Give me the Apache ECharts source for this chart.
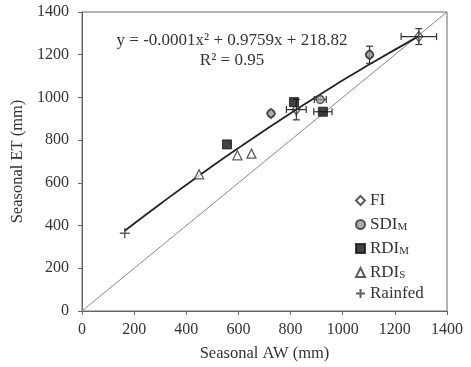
<!DOCTYPE html>
<html><head><meta charset="utf-8">
<script src="https://cdn.jsdelivr.net/npm/echarts@6/dist/echarts.min.js"></script>
<style>html,body{margin:0;padding:0;background:#fff}#c{width:471px;height:367px}</style>
</head><body><div id="c"></div>
<script>
// Data
const fiPts = [[1292,1285],[1103,1200],[822,943],[725,925]];
const sdiPts = [[1103,1200],[914,990],[725,925]];
const rdiMPts = [[813,978],[924,933],[556,780]];
const rdiSPts = [[449,640],[596,729],[650,737]];
const rainfedPts = [[164,364]];
// error bars: [x, y, xErr, yErr]
const errBars = [[1292,1285,68,37],[1103,1200,0,40],[822,943,38,48],[914,990,23,0],[924,933,35,0]];
// fitted curve points
const fitX = [164,300,451,600,822,1000,1103,1290];
const fitY = [376,501,636,763,943,1080,1155,1286];
const oneToOne = [[0,0],[1400,1400]];
const axisTicks = [0,200,400,600,800,1000,1200,1400];

const serif = '"Liberation Serif","DejaVu Serif",serif';
const chart = echarts.init(document.getElementById('c'));
const fitData = fitX.map((x,i)=>[x,fitY[i]]);
const plusPath = 'path://M0,5L10,5M5,0L5,10';

chart.setOption({
  animation:false,
  grid:{left:82,top:12,right:24,bottom:55,show:true,borderColor:'#666',borderWidth:1},
  xAxis:{type:'value',min:axisTicks[0],max:axisTicks[axisTicks.length-1],interval:200,
    name:'Seasonal AW (mm)',nameLocation:'middle',nameGap:34,
    nameTextStyle:{fontFamily:serif,fontSize:16.5,color:'#333'},
    axisLine:{lineStyle:{color:'#666'}},axisTick:{inside:false,length:4,lineStyle:{color:'#666'}},
    axisLabel:{fontFamily:serif,fontSize:16,color:'#333',margin:11,formatter:v=>String(v)},splitLine:{show:false}},
  yAxis:{type:'value',min:axisTicks[0],max:axisTicks[axisTicks.length-1],interval:200,
    name:'Seasonal ET (mm)',nameLocation:'middle',nameGap:54,
    nameTextStyle:{fontFamily:serif,fontSize:16.5,color:'#333'},
    axisLine:{show:true,lineStyle:{color:'#666'}},axisTick:{show:true,length:4,lineStyle:{color:'#666'}},
    axisLabel:{fontFamily:serif,fontSize:16,color:'#333',margin:13,formatter:v=>String(v)},splitLine:{show:false}},
  legend:{orient:'vertical',left:350,top:187,itemGap:4,itemWidth:9,itemHeight:9,
    textStyle:{fontFamily:serif,fontSize:17,color:'#333',
      rich:{a:{fontFamily:serif,fontSize:17,color:'#333',lineHeight:17},s:{fontFamily:serif,fontSize:11,color:'#333',lineHeight:17,verticalAlign:'bottom',padding:[9,0,0,0]}}},
    formatter:function(n){
      if(n==='SDI_M') return '{a|SDI}{s|M}';
      if(n==='RDI_M') return '{a|RDI}{s|M}';
      if(n==='RDI_S') return '{a|RDI}{s|S}';
      return '{a|'+n+'}';
    },
    data:['FI','SDI_M','RDI_M','RDI_S','Rainfed']},
  series:[
    {type:'line',data:oneToOne,symbol:'none',lineStyle:{color:'#888',width:1},silent:true,z:1},
    {type:'line',data:fitData,symbol:'none',smooth:true,lineStyle:{color:'#222',width:1.8},silent:true,z:2},
    {type:'custom',z:3,data:errBars,renderItem:function(params,api){
      const x=api.value(0),y=api.value(1),ex=api.value(2),ey=api.value(3);
      const ch=[];const st={stroke:'#333',lineWidth:1.2};const cap=3.5;
      if(ex>0){const a=api.coord([x-ex,y]),b=api.coord([x+ex,y]);
        ch.push({type:'line',shape:{x1:a[0],y1:a[1],x2:b[0],y2:b[1]},style:st});
        ch.push({type:'line',shape:{x1:a[0],y1:a[1]-cap,x2:a[0],y2:a[1]+cap},style:st});
        ch.push({type:'line',shape:{x1:b[0],y1:b[1]-cap,x2:b[0],y2:b[1]+cap},style:st});}
      if(ey>0){const a=api.coord([x,y-ey]),b=api.coord([x,y+ey]);
        ch.push({type:'line',shape:{x1:a[0],y1:a[1],x2:b[0],y2:b[1]},style:st});
        ch.push({type:'line',shape:{x1:a[0]-cap,y1:a[1],x2:a[0]+cap,y2:a[1]},style:st});
        ch.push({type:'line',shape:{x1:b[0]-cap,y1:b[1],x2:b[0]+cap,y2:b[1]},style:st});}
      return {type:'group',children:ch};
    }},
    {name:'RDI_M',type:'scatter',data:rdiMPts,symbol:'rect',symbolSize:9,z:4,itemStyle:{color:'#111',borderColor:'#111',borderWidth:1}},
    {name:'SDI_M',type:'scatter',data:sdiPts,symbol:'circle',symbolSize:8,z:5,itemStyle:{color:'#999',borderColor:'#333',borderWidth:1.2}},
    {name:'FI',type:'scatter',data:fiPts,symbol:'diamond',symbolSize:[8,10],z:6,itemStyle:{color:'rgba(255,255,255,0)',borderColor:'#333',borderWidth:1.3}},
    {name:'RDI_S',type:'scatter',data:rdiSPts,symbol:'triangle',symbolSize:9,z:6,itemStyle:{color:'#fff',borderColor:'#333',borderWidth:1.3}},
    {name:'Rainfed',type:'scatter',data:rainfedPts,symbol:plusPath,symbolSize:10,z:6,itemStyle:{color:'rgba(0,0,0,0)',borderColor:'#333',borderWidth:1.4}}
  ],
  graphic:[
    {type:'text',x:232,y:41,style:{text:'y = -0.0001x² + 0.9759x + 218.82',font:'17px '+serif,fill:'#333',align:'center',verticalAlign:'middle'}},
    {type:'text',x:232,y:61,style:{text:'R² = 0.95',font:'17px '+serif,fill:'#333',align:'center',verticalAlign:'middle'}}
  ]
});
</script></body></html>
